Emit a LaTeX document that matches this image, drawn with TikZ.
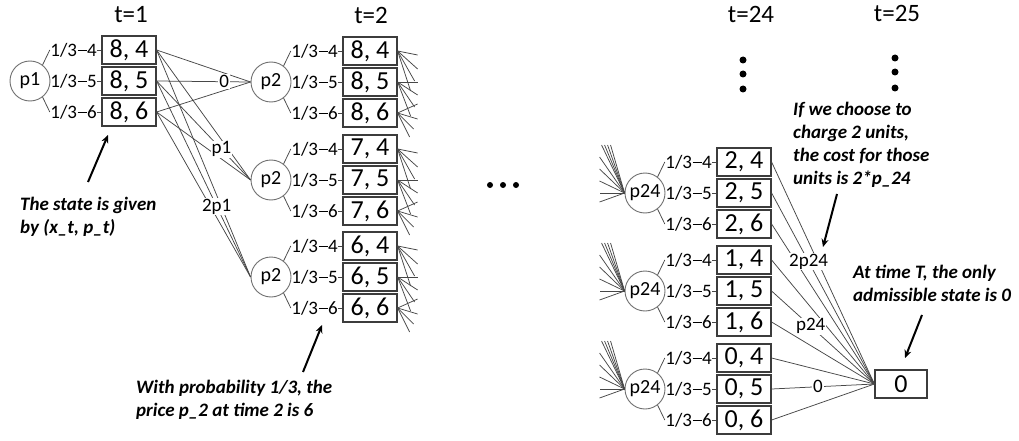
\documentclass[tikz,border=0pt]{standalone}
\usepackage{fontspec}
\setmainfont{Carlito}
\usetikzlibrary{arrows.meta}
\definecolor{boxc}{HTML}{3C3C3C}
\definecolor{circc}{HTML}{707070}
\definecolor{linec}{HTML}{474747}
\newcommand{\pdash}{\kern0.5pt\rule[5pt]{9pt}{0.7pt}\kern0.5pt}
\newcommand{\grp}[5]{% #1 name, #2 cx, #3 cy, #4 circle text, #5 x value
  \node[pnode] (#1p) at (#2,#3) {#4};
  \foreach \k/\q/\dy in {a/4/-31, b/5/0, c/6/31} {
    \node[state] (#1\k) at (#2+99,#3+\dy) {#5, \q};
    \node[prob] (#1L\k) at ([xshift=-4pt]#1\k.west) {1/3\pdash\q};
    \draw[edge] (#1L\k.east) -- (#1\k.west);
  }
  \draw[edge] (#1p.52) -- (#1La.west);
  \draw[edge] (#1p.-52) -- (#1Lc.west);
}
\begin{document}
\begin{tikzpicture}[x=1pt,y=-1pt,
  state/.style={draw=boxc, line width=1.2pt, minimum width=54pt, minimum height=28pt, inner sep=0pt, font=\fontsize{26}{26}\selectfont},
  pnode/.style={circle, draw=circc, line width=0.9pt, minimum size=40pt, inner sep=0pt, font=\fontsize{20}{20}\selectfont},
  prob/.style={inner sep=0.5pt, anchor=east, font=\fontsize{19}{19}\selectfont},
  edge/.style={draw=linec, line width=0.75pt},
  elab/.style={fill=white, inner sep=1pt, font=\fontsize{19}{19}\selectfont},
  note/.style={align=left, anchor=north west, inner sep=0pt, font=\fontsize{19}{23}\selectfont\bfseries\itshape},
  callout/.style={-{Stealth[length=8pt,width=7pt]}, line width=2pt, black},
  title/.style={font=\fontsize{25}{25}\selectfont},
  bigdot/.style={circle, fill=black, inner sep=0pt, minimum size=7pt}
]
\fill[white] (0,0) rectangle (1019,441);
\useasboundingbox (0,0) rectangle (1019,441);

% titles
\node[title] (t1) at (131,15) {t=1};
\node[title] (t2) at (371,15) {t=2};
\node[title] (t24) at (751,14) {t=24};
\node[title] (t25) at (897,13) {t=25};

% vertical and horizontal ellipses
\foreach \i/\y in {1/60,2/74,3/89} \node[bigdot] (va\i) at (743,\y) {};
\foreach \i/\y in {1/58,2/72,3/88} \node[bigdot] (vb\i) at (895,\y) {};
\foreach \i/\x in {1/490,2/503,3/516} \node[bigdot, minimum size=6pt] (h\i) at (\x,185) {};

% groups
\grp{A}{30}{81}{p1}{8}
\grp{B}{271}{82}{p2}{8}
\grp{C}{271}{180}{p2}{7}
\grp{D}{271}{277}{p2}{6}
\grp{E}{645}{193}{p24}{2}
\grp{F}{645}{291}{p24}{1}
\grp{G}{645}{389}{p24}{0}

\node[state, minimum width=52pt] (T) at (901,384) {0};

% edges t=1 -> t=2
\foreach \s in {Aa,Ac} \foreach \t in {Bp,Cp,Dp} \draw[edge] (\s.east) -- (\t.west);
\draw[edge] (Ab.east) -- node[elab,pos=0.72]{0} (Bp.west);
\draw[edge] (Ab.east) -- node[elab,pos=0.69]{p1} (Cp.west);
\draw[edge] (Ab.east) -- node[elab,pos=0.64]{2p1} (Dp.west);

% fans leaving t=2 states
\foreach \g in {B,C,D}{
  \foreach \dx/\dy in {20/4, 20/18, 17/30, 13/40} \draw[edge] ({\g a}.east) -- ++(\dx,\dy);
  \foreach \dx/\dy in {20/0, 20/13, 17/25, 13/34} \draw[edge] ({\g b}.east) -- ++(\dx,\dy);
  \foreach \dx/\dy in {20/-9, 20/6, 16/16, 12/24} \draw[edge] ({\g c}.east) -- ++(\dx,\dy);
}

% fans entering t=24 circles
\foreach \g in {E,F,G}{
  \foreach \dx/\dy in {-23/-48,-20/-48,-17/-48,-14/-48,-25/-36,-25/-24,-25/-12,-25/0,-25/9}
    \draw[edge] ({\g p}.west) -- ++(\dx,\dy);
}

% edges t=24 -> terminal
\foreach \s in {Ea,Ec,Fa,Fc,Ga,Gc} \draw[edge] (\s.east) -- (T.west);
\draw[edge] (Eb.east) -- node[elab,pos=0.36]{2p24} (T.west);
\draw[edge] (Fb.east) -- node[elab,pos=0.38]{p24} (T.west);
\draw[edge] (Gb.east) -- node[elab,pos=0.45]{0} (T.west);

% notes
\node[note] (n1) at (20,197) {The state is given\\by (x\_t, p\_t)};
\node[note] (n2) at (136,380) {With probability 1/3, the\\price p\_2 at time 2 is 6};
\node[note] (n3) at (793,102) {If we choose to\\charge 2 units,\\the cost for those\\units is 2*p\_24};
\node[note] (n4) at (853,265) {At time T, the only\\admissible state is 0};

% callout arrows
\coordinate (c1t) at (88,182); \coordinate (c1h) at (108,135);
\coordinate (c2t) at (303,372); \coordinate (c2h) at (322,325);
\coordinate (c3t) at (837,194); \coordinate (c3h) at (823,247);
\coordinate (c4t) at (922,315); \coordinate (c4h) at (905,358);
\draw[callout] (c1t) -- (c1h);
\draw[callout] (c2t) -- (c2h);
\draw[callout] (c3t) -- (c3h);
\draw[callout] (c4t) -- (c4h);
\end{tikzpicture}
\end{document}
